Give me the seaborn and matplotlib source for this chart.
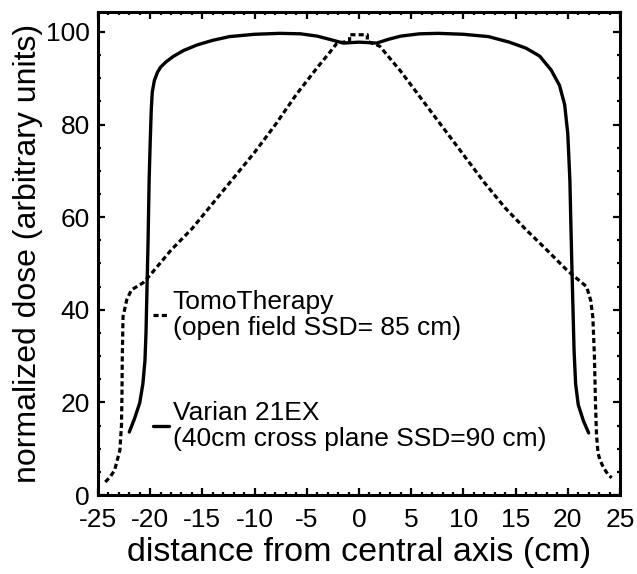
import matplotlib
matplotlib.use("Agg")
import matplotlib.pyplot as plt
from matplotlib.ticker import MultipleLocator
import seaborn as sns
import pandas as pd

# Varian 21EX, 40 cm cross-plane profile at SSD = 90 cm
varian_x = [-22.0, -21.5, -21.0, -20.7, -20.5, -20.4, -20.3, -20.2, -20.1, -20.0,
            -19.9, -19.8, -19.6, -19.3, -19.0, -18.5, -17.8, -16.8, -15.5, -14.0,
            -12.4, -10.0, -7.6, -5.6, -4.0, -2.8, -1.5, 0.0, 1.7, 2.8,
            4.0, 5.8, 7.6, 10.0, 12.4, 14.4, 16.0, 17.3, 18.4, 19.2,
            19.7, 20.0, 20.2, 20.3, 20.4, 20.5, 20.6, 20.75, 21.0, 21.5, 22.0]
varian_y = [13.6, 16.5, 19.9, 24.0, 29.0, 35.0, 45.0, 55.0, 68.0, 76.0,
            83.0, 87.0, 89.5, 91.3, 92.4, 93.5, 94.7, 96.0, 97.2, 98.2,
            99.0, 99.5, 99.7, 99.6, 99.1, 98.4, 97.6, 97.8, 97.6, 98.4,
            99.1, 99.6, 99.7, 99.5, 99.0, 97.8, 96.5, 94.8, 91.8, 88.5,
            84.3, 78.0, 68.0, 58.0, 48.6, 40.0, 31.3, 24.0, 19.5, 16.0, 13.4]

# TomoTherapy open-field profile at SSD = 85 cm
tomo_x = [-24.3, -23.8, -23.4, -22.9, -22.75, -22.7, -22.67, -22.6, -22.25, -21.8,
          -20.7, -20.0, -19.0, -18.0, -16.0, -14.0, -12.0, -10.0, -8.0, -6.0,
          -4.0, -2.8, -2.1, -0.9, -0.9, 0.8, 0.8, 2.0, 3.0, 4.0,
          6.0, 8.0, 10.0, 12.0, 14.0, 16.0, 18.0, 19.9, 21.0, 21.8,
          22.2, 22.4, 22.55, 22.65, 22.75, 22.9, 23.1, 23.4, 23.8, 24.2]
tomo_y = [2.8, 4.0, 5.4, 9.7, 15.0, 22.0, 30.0, 38.5, 42.1, 44.3,
          45.8, 47.5, 50.2, 52.9, 57.5, 63.0, 68.5, 74.0, 80.0, 86.5,
          92.3, 95.6, 97.6, 98.0, 99.4, 99.4, 98.0, 96.9, 94.2, 91.5,
          85.5, 79.5, 73.5, 67.5, 62.0, 57.3, 52.9, 48.6, 46.5, 45.0,
          42.0, 38.4, 30.0, 20.0, 13.0, 9.0, 7.5, 6.0, 4.6, 3.7]

series_labels = ["TomoTherapy\n(open field SSD= 85 cm)",
                 "Varian 21EX\n(40cm cross plane SSD=90 cm)"]
x_ticks = [-25, -20, -15, -10, -5, 0, 5, 10, 15, 20, 25]
y_ticks = [0, 20, 40, 60, 80, 100]

sns.set_theme(style="ticks")
plt.rcParams["font.family"] = ["Liberation Sans", "DejaVu Sans"]
plt.rcParams.update({
    "text.color": "black",
    "axes.labelcolor": "black",
    "axes.edgecolor": "black",
    "xtick.color": "black",
    "ytick.color": "black",
})

fig = plt.figure(figsize=(6.37, 5.74), dpi=100)
ax = fig.add_axes([0.1538, 0.1376, 0.8195, 0.8414])

tomo_df = pd.DataFrame({"x": tomo_x, "y": tomo_y})
varian_df = pd.DataFrame({"x": varian_x, "y": varian_y})

sns.lineplot(data=varian_df, x="x", y="y", sort=False, estimator=None,
             color="black", lw=2.4, ax=ax, label=series_labels[1])
sns.lineplot(data=tomo_df, x="x", y="y", sort=False, estimator=None,
             color="black", lw=2.3, ax=ax, label=series_labels[0],
             dashes=False)
tomo_line = ax.lines[-1]
tomo_line.set_linestyle((0, (1.6, 1.0)))
tomo_line.set_dash_capstyle("butt")

ax.set_xlim(-25, 25)
ax.set_ylim(0, 104.3)
ax.set_xticks(x_ticks)
ax.set_yticks(y_ticks)
ax.set_xticklabels([str(t) for t in x_ticks])
ax.set_yticklabels([str(t) for t in y_ticks])
ax.xaxis.set_minor_locator(MultipleLocator(1))
ax.yaxis.set_minor_locator(MultipleLocator(5))
ax.tick_params(which="both", direction="in", top=True, right=True,
               color="black", width=1.6)
ax.tick_params(which="major", length=5, labelsize=19)
ax.tick_params(which="minor", length=2.5)
ax.tick_params(axis="x", which="major", pad=9)
ax.tick_params(axis="y", which="major", pad=6)

for side in ax.spines.values():
    side.set_linewidth(2.2)
    side.set_color("black")

ax.set_xlabel("distance from central axis (cm)", fontsize=24.5, labelpad=4)
ax.set_ylabel("normalized dose (arbitrary units)", fontsize=23, labelpad=2)

handles, labels = ax.get_legend_handles_labels()
order = [labels.index(series_labels[0]), labels.index(series_labels[1])]
leg = ax.legend([handles[i] for i in order], [labels[i] for i in order],
                loc="upper left", bbox_to_anchor=(0.105, 0.425),
                frameon=False, fontsize=19, handlelength=0.6,
                handletextpad=0.15, labelspacing=2.3, borderpad=0,
                borderaxespad=0)
for t in leg.get_texts():
    t.set_linespacing(1.12)

fig.savefig("out.png", dpi=100, facecolor="white")
